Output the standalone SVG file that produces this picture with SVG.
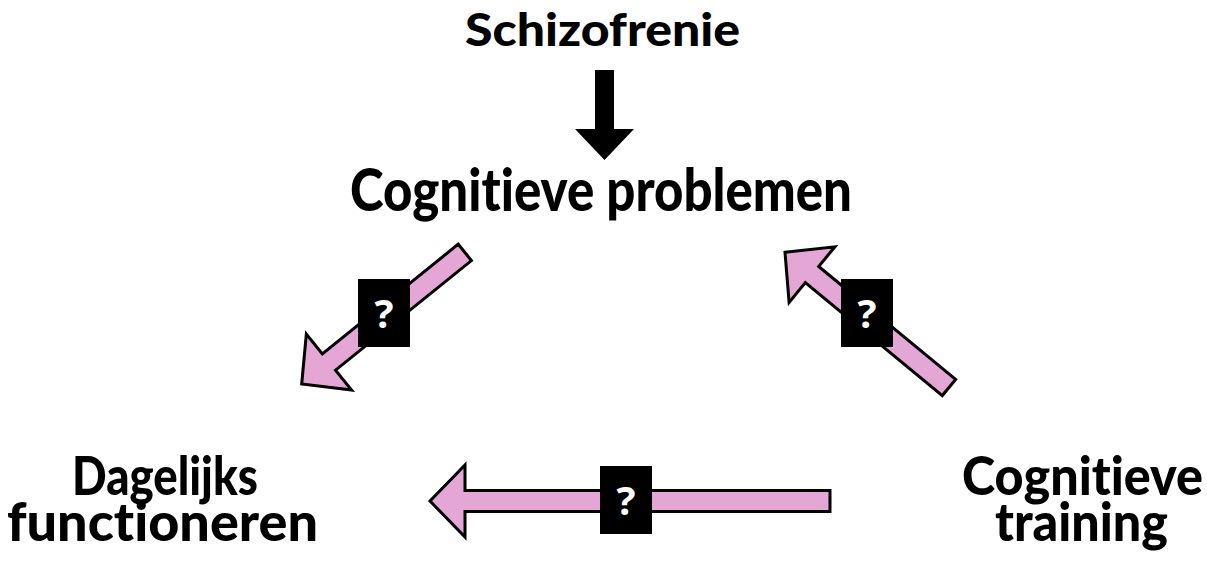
<svg xmlns="http://www.w3.org/2000/svg" width="1207" height="561" viewBox="0 0 1207 561">
  <style>
    .lbl { font-family: Lato, "Open Sans", "Liberation Sans", sans-serif; font-weight: 900; fill: #000; text-anchor: middle; font-variant-ligatures: none; font-feature-settings: "liga" 0, "clig" 0; }
    .pink { fill: #E3A6D5; stroke: #000; stroke-width: 3; stroke-linejoin: miter; }
    .qbox { fill: #000; }
    .q { font-family: "Open Sans", "Liberation Sans", sans-serif; font-weight: bold; fill: #fff; text-anchor: middle; font-size: 40px; }
  </style>
  <rect width="1207" height="561" fill="#fff"/>

  <g id="connectors">
    <polygon id="c-schizo-cog" points="595,70 614,70 614,129 634,129 604.5,160 575,129 595,129" fill="#000"/>
    <g id="c-cog-dag">
      <path class="pink" transform="translate(301.7,384) rotate(-38.9)" d="M0,0 L35,-36 L35,-10.5 L209.6,-10.5 L209.6,10.5 L35,10.5 L35,36 Z"/>
      <rect class="qbox" x="358" y="279" width="52" height="68"/>
      <text class="q" x="384" y="328">?</text>
    </g>
    <g id="c-train-cog">
      <path class="pink" transform="translate(785,252.3) rotate(39.5)" d="M0,0 L35,-36 L35,-10.5 L212.5,-10.5 L212.5,10.5 L35,10.5 L35,36 Z"/>
      <rect class="qbox" x="841" y="279" width="52" height="68"/>
      <text class="q" x="867" y="328">?</text>
    </g>
    <g id="c-train-dag">
      <path class="pink" transform="translate(430,501)" d="M0,0 L35,-36 L35,-10.5 L400,-10.5 L400,10.5 L35,10.5 L35,36 Z"/>
      <rect class="qbox" x="600" y="466" width="52" height="68"/>
      <text class="q" x="626" y="515">?</text>
    </g>
  </g>

  <g id="node-schizofrenie">
    <text class="lbl" x="602.5" y="46" font-size="45" textLength="275" lengthAdjust="spacingAndGlyphs">Schizofrenie</text>
  </g>
  <g id="node-cognitieve-problemen">
    <text class="lbl" x="601" y="211" font-size="59" textLength="502" lengthAdjust="spacingAndGlyphs">Cognitieve problemen</text>
  </g>
  <g id="node-dagelijks-functioneren">
    <text class="lbl" x="165" y="495" font-size="54" textLength="186" lengthAdjust="spacingAndGlyphs">Dagelijks</text>
    <text class="lbl" x="162.5" y="541" font-size="54" textLength="311" lengthAdjust="spacingAndGlyphs">functioneren</text>
  </g>
  <g id="node-cognitieve-training">
    <text class="lbl" x="1082.5" y="495" font-size="54" textLength="241" lengthAdjust="spacingAndGlyphs">Cognitieve</text>
    <text class="lbl" x="1081.5" y="541" font-size="54" textLength="173" lengthAdjust="spacingAndGlyphs">training</text>
  </g>
</svg>
